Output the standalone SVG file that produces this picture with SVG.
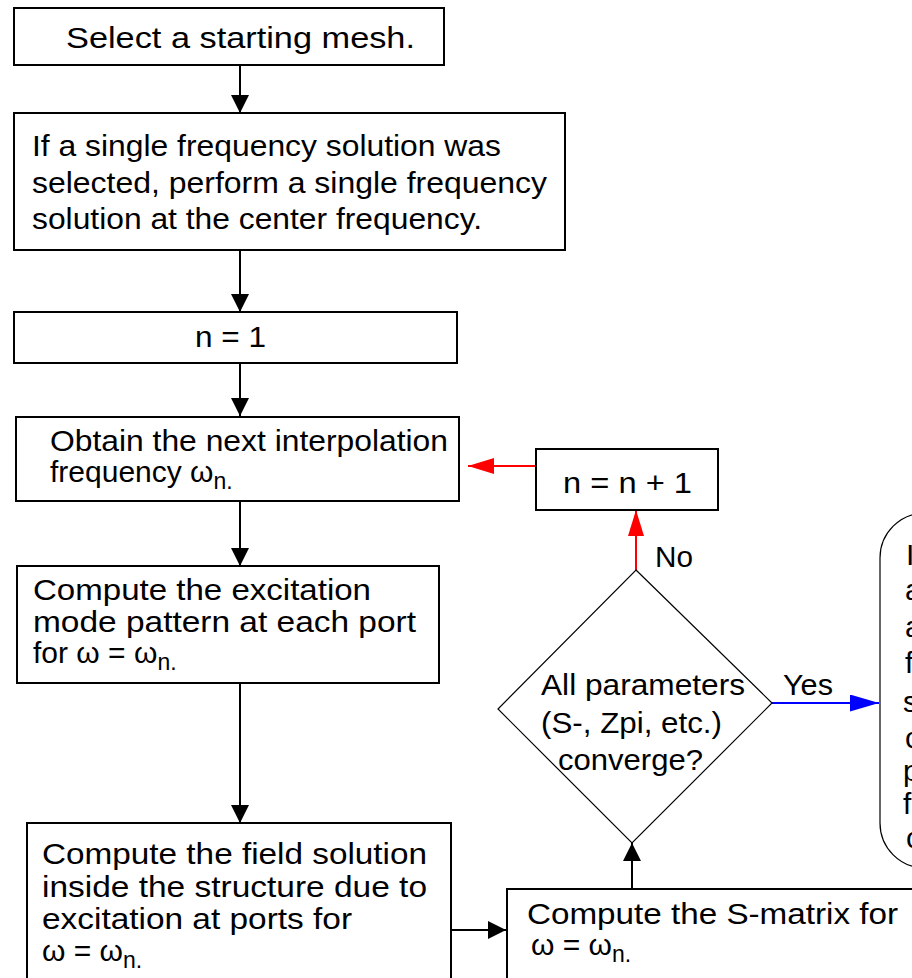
<svg xmlns="http://www.w3.org/2000/svg" width="912" height="978" viewBox="0 0 912 978">
  <style>
    .box { fill: #ffffff; stroke: #000000; stroke-width: 2; }
    .thin { fill: #ffffff; stroke: #000000; stroke-width: 1.2; }
    text { font-family: "Liberation Sans", Arial, Helvetica, sans-serif; font-size: 30px; fill: #000000; }
    .sub { font-size: 23px; }
    .link { fill: none; stroke: #000000; stroke-width: 2; }
    .red { fill: none; stroke: #ff0000; stroke-width: 2; }
    .blue { fill: none; stroke: #0000ff; stroke-width: 2; }
  </style>
  <defs>
    <marker id="ah" viewBox="0 0 18 18" refX="18" refY="9" markerWidth="18" markerHeight="18" markerUnits="userSpaceOnUse" orient="auto">
      <path d="M0,0 L18,9 L0,18 Z" fill="#000000"/>
    </marker>
    <marker id="ahRed" viewBox="0 0 26 16" refX="26" refY="8" markerWidth="26" markerHeight="16" markerUnits="userSpaceOnUse" orient="auto">
      <path d="M0,0 L26,8 L0,16 Z" fill="#ff0000"/>
    </marker>
    <marker id="ahBlue" viewBox="0 0 29 17" refX="29" refY="8.5" markerWidth="29" markerHeight="17" markerUnits="userSpaceOnUse" orient="auto">
      <path d="M0,0 L29,8.5 L0,17 Z" fill="#0000ff"/>
    </marker>
  </defs>

  <!-- connectors -->
  <g id="connectors">
    <line class="link" x1="240" y1="65" x2="240" y2="113" marker-end="url(#ah)"/>
    <line class="link" x1="240" y1="250" x2="240" y2="312" marker-end="url(#ah)"/>
    <line class="link" x1="240" y1="363" x2="240" y2="416" marker-end="url(#ah)"/>
    <line class="link" x1="240" y1="501" x2="240" y2="566" marker-end="url(#ah)"/>
    <line class="link" x1="240" y1="683" x2="240" y2="823" marker-end="url(#ah)"/>
    <line class="link" x1="451" y1="930" x2="506" y2="930" marker-end="url(#ah)"/>
    <line class="link" x1="632" y1="889" x2="632" y2="843" marker-end="url(#ah)"/>
    <line class="red" x1="536" y1="466" x2="468" y2="466" marker-end="url(#ahRed)"/>
    <line class="red" x1="636" y1="570" x2="636" y2="510" marker-end="url(#ahRed)"/>
    <line class="blue" x1="772" y1="703" x2="879" y2="703" marker-end="url(#ahBlue)"/>
    <text x="655" y="567" textLength="38" lengthAdjust="spacingAndGlyphs">No</text>
    <text x="783" y="695" textLength="50" lengthAdjust="spacingAndGlyphs">Yes</text>
  </g>

  <g id="select-mesh">
    <rect class="box" x="14" y="8" width="430" height="57"/>
    <text x="66" y="48" textLength="349" lengthAdjust="spacingAndGlyphs">Select a starting mesh.</text>
  </g>

  <g id="single-frequency">
    <rect class="box" x="14" y="113" width="551" height="137"/>
    <text x="32" y="156" textLength="469" lengthAdjust="spacingAndGlyphs">If a single frequency solution was</text>
    <text x="32" y="193" textLength="515" lengthAdjust="spacingAndGlyphs">selected, perform a single frequency</text>
    <text x="32" y="229" textLength="450" lengthAdjust="spacingAndGlyphs">solution at the center frequency.</text>
  </g>

  <g id="n-init">
    <rect class="box" x="14" y="312" width="443" height="51"/>
    <text x="195" y="347" textLength="71" lengthAdjust="spacingAndGlyphs">n = 1</text>
  </g>

  <g id="next-frequency">
    <rect class="box" x="16" y="417" width="443" height="84"/>
    <text x="50" y="451" textLength="398" lengthAdjust="spacingAndGlyphs">Obtain the next interpolation</text>
    <text x="50" y="482">frequency ω<tspan class="sub" dy="7">n.</tspan></text>
  </g>

  <g id="n-increment">
    <rect class="box" x="536" y="449" width="182" height="61"/>
    <text x="563" y="493" textLength="129" lengthAdjust="spacingAndGlyphs">n = n + 1</text>
  </g>

  <g id="excitation-mode">
    <rect class="box" x="17" y="566" width="422" height="117"/>
    <text x="33" y="600" textLength="338" lengthAdjust="spacingAndGlyphs">Compute the excitation</text>
    <text x="33" y="632" textLength="383" lengthAdjust="spacingAndGlyphs">mode pattern at each port</text>
    <text x="33" y="663">for ω = ω<tspan class="sub" dy="7">n.</tspan></text>
  </g>

  <g id="converge-check">
    <path class="thin" d="M636,570 L772,703 L632,843 L498,709 Z"/>
    <text x="541" y="695" textLength="204" lengthAdjust="spacingAndGlyphs">All parameters</text>
    <text x="541" y="733" textLength="181" lengthAdjust="spacingAndGlyphs">(S-, Zpi, etc.)</text>
    <text x="558" y="770" textLength="145" lengthAdjust="spacingAndGlyphs">converge?</text>
  </g>

  <g id="done-note">
    <rect class="thin" x="880" y="513" width="120" height="355" rx="45" ry="45"/>
    <text x="906" y="565">I</text>
    <text x="905" y="600">a</text>
    <text x="905" y="637">a</text>
    <text x="905" y="673">f</text>
    <text x="903" y="712">s</text>
    <text x="905" y="748">c</text>
    <text x="903" y="781">p</text>
    <text x="903" y="814">f</text>
    <text x="906" y="848">c</text>
  </g>

  <g id="field-solution">
    <rect class="box" x="27" y="823" width="424" height="170"/>
    <text x="42" y="864" textLength="385" lengthAdjust="spacingAndGlyphs">Compute the field solution</text>
    <text x="42" y="897" textLength="385" lengthAdjust="spacingAndGlyphs">inside the structure due to</text>
    <text x="42" y="929" textLength="310" lengthAdjust="spacingAndGlyphs">excitation at ports for</text>
    <text x="42" y="961">ω = ω<tspan class="sub" dy="7">n.</tspan></text>
  </g>

  <g id="s-matrix">
    <rect class="box" x="507" y="889" width="420" height="100"/>
    <text x="527" y="924" textLength="371" lengthAdjust="spacingAndGlyphs">Compute the S-matrix for</text>
    <text x="531" y="955">ω = ω<tspan class="sub" dy="7">n.</tspan></text>
  </g>
</svg>
